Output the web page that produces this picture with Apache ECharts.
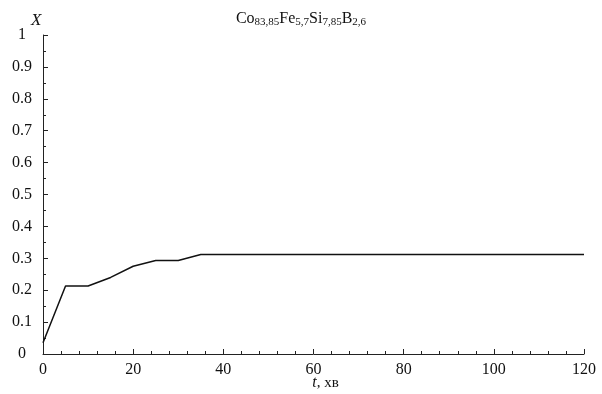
<!DOCTYPE html>
<html><head><meta charset="utf-8">
<script src="https://cdn.jsdelivr.net/npm/echarts@6/dist/echarts.min.js"></script>
<style>html,body{margin:0;padding:0;background:#fff}#c{width:602px;height:394px}</style>
</head><body><div id="c"></div>
<script>
const tValues = [0, 5, 10, 15, 20, 25, 30, 35, 40, 50, 60, 70, 80, 90, 100, 110, 120];
const xValues = [0.035, 0.213, 0.213, 0.24, 0.275, 0.293, 0.293, 0.312, 0.312, 0.312, 0.312, 0.312, 0.312, 0.312, 0.312, 0.312, 0.312];
const font = 'Liberation Serif';
const chart = echarts.init(document.getElementById('c'));
chart.setOption({
  animation: false,
  backgroundColor: '#fff',
  title: {
    text: '{n|Co}{s|83,85}{n|Fe}{s|5,7}{n|Si}{s|7,85}{n|B}{s|2,6}',
    left: 'center', top: 5,
    textStyle: { fontWeight: 'normal', rich: {
      n: { fontFamily: font, fontSize: 16, fontWeight: 'normal', color: '#111' },
      s: { fontFamily: font, fontSize: 11, fontWeight: 'normal', color: '#111', padding: [7, 0, 0, 0] }
    } }
  },
  grid: { left: 43, right: 18, top: 35, bottom: 40, containLabel: false, outerBoundsMode: 'none' },
  xAxis: {
    type: 'value', min: 0, max: 120, interval: 20,
    name: '{i|t}{n|, хв}', nameLocation: 'middle', nameGap: 21, nameMoveOverlap: false,
    nameTextStyle: { padding: [0, 0, 0, 24], rich: { i: { fontFamily: font, fontStyle: 'italic', fontSize: 16, color: '#111' }, n: { fontFamily: font, fontSize: 15, color: '#111' } } },
    axisLine: { lineStyle: { color: '#222', width: 1 } },
    axisTick: { inside: true, length: 5, lineStyle: { color: '#222' } },
    minorTick: { show: true, splitNumber: 5, length: 3, lineStyle: { color: '#222' } },
    axisLabel: { fontFamily: font, fontSize: 16, color: '#111', margin: 8 },
    splitLine: { show: false }
  },
  yAxis: {
    type: 'value', min: 0, max: 1, interval: 0.1,
    axisLine: { show: true, lineStyle: { color: '#222', width: 1 } },
    axisTick: { show: true, inside: true, length: 5, lineStyle: { color: '#222' } },
    minorTick: { show: true, splitNumber: 2, length: 3, lineStyle: { color: '#222' } },
    axisLabel: { fontFamily: font, fontSize: 16, color: '#111', margin: 21, align: 'center' },
    splitLine: { show: false }
  },
  graphic: [{ type: 'text', left: 31, top: 12, style: { text: 'X', fontFamily: font, fontStyle: 'italic', fontSize: 17, fill: '#111' } }],
  series: [{
    type: 'line', data: tValues.map((t, i) => [t, xValues[i]]),
    showSymbol: false, lineStyle: { color: '#111', width: 1.5 }
  }]
});
</script></body></html>
